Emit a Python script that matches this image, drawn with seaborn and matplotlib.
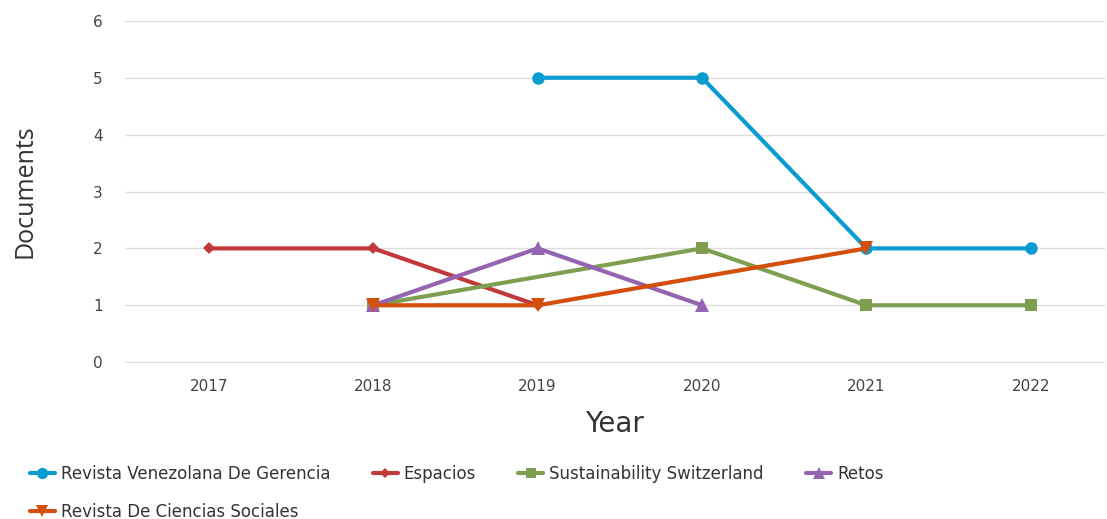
import pandas as pd
import matplotlib.pyplot as plt
import seaborn as sns

years = ["2017", "2018", "2019", "2020", "2021", "2022"]

# documents per source (missing years are left out)
rvg_years = ["2019", "2020", "2021", "2022"]
rvg_docs = [5, 5, 2, 2]
espacios_years = ["2017", "2018", "2019"]
espacios_docs = [2, 2, 1]
sust_years = ["2018", "2020", "2021", "2022"]
sust_docs = [1, 2, 1, 1]
retos_years = ["2018", "2019", "2020"]
retos_docs = [1, 2, 1]
rcs_years = ["2018", "2019", "2021"]
rcs_docs = [1, 1, 2]

sources = ["Revista Venezolana De Gerencia", "Espacios", "Sustainability Switzerland",
           "Retos", "Revista De Ciencias Sociales"]
colors = ["#0A9BD1", "#C2393C", "#7E9F50", "#9463B1", "#D44F0C"]
markers = ["o", "D", "s", "^", "v"]
sizes = [9, 6, 8.5, 9.5, 9.5]

rows = []
for name, ys, ds in zip(sources,
                        [rvg_years, espacios_years, sust_years, retos_years, rcs_years],
                        [rvg_docs, espacios_docs, sust_docs, retos_docs, rcs_docs]):
    for y, d in zip(ys, ds):
        rows.append({"Source": name, "Year": years.index(y), "Documents": d})
df = pd.DataFrame(rows)

sns.set_style("white")
plt.rcParams['font.family'] = ['DejaVu Sans']

fig = plt.figure(figsize=(11.07, 5.19), dpi=100)
ax = fig.add_axes([0.113, 0.30, 0.885, 0.662])

handles = []
for name, c, m, s in zip(sources, colors, markers, sizes):
    sub = df[df["Source"] == name]
    sns.lineplot(data=sub, x="Year", y="Documents", ax=ax, color=c, marker=m,
                 markersize=s, markeredgewidth=0, linewidth=3, legend=False)
    handles.append(plt.Line2D([], [], color=c, marker=m, markersize=s * 0.9,
                              markeredgewidth=0, linewidth=3, label=name))

ax.set_xlim(-0.51, 5.45)
ax.set_ylim(-0.02, 6.02)
ax.set_xticks(range(len(years)))
ax.set_xticklabels(years)
ax.set_yticks(range(0, 7))
ax.grid(axis="y", color="#DEDEDE", linewidth=1)
ax.set_axisbelow(True)
for sp in ax.spines.values():
    sp.set_visible(False)
ax.tick_params(axis="both", length=0, labelsize=11, colors="#444444", pad=11)
ax.tick_params(axis="y", pad=16)
ax.set_xlabel("Year", fontsize=20, color="#333333", labelpad=12)
ax.set_ylabel("Documents", fontsize=18, color="#333333", labelpad=40,
              family=["Open Sans", "DejaVu Sans"])

order = [0, 4, 1, 2, 3]
fig.legend([handles[i] for i in order], [sources[i] for i in order],
           loc="upper left", bbox_to_anchor=(0.027, 0.104), ncol=4, frameon=False,
           fontsize=12, handlelength=1.5, handletextpad=0.35, columnspacing=2.55,
           labelspacing=1.2, borderpad=0, borderaxespad=0, labelcolor="#333333")

fig.savefig("out.png", dpi=100)
